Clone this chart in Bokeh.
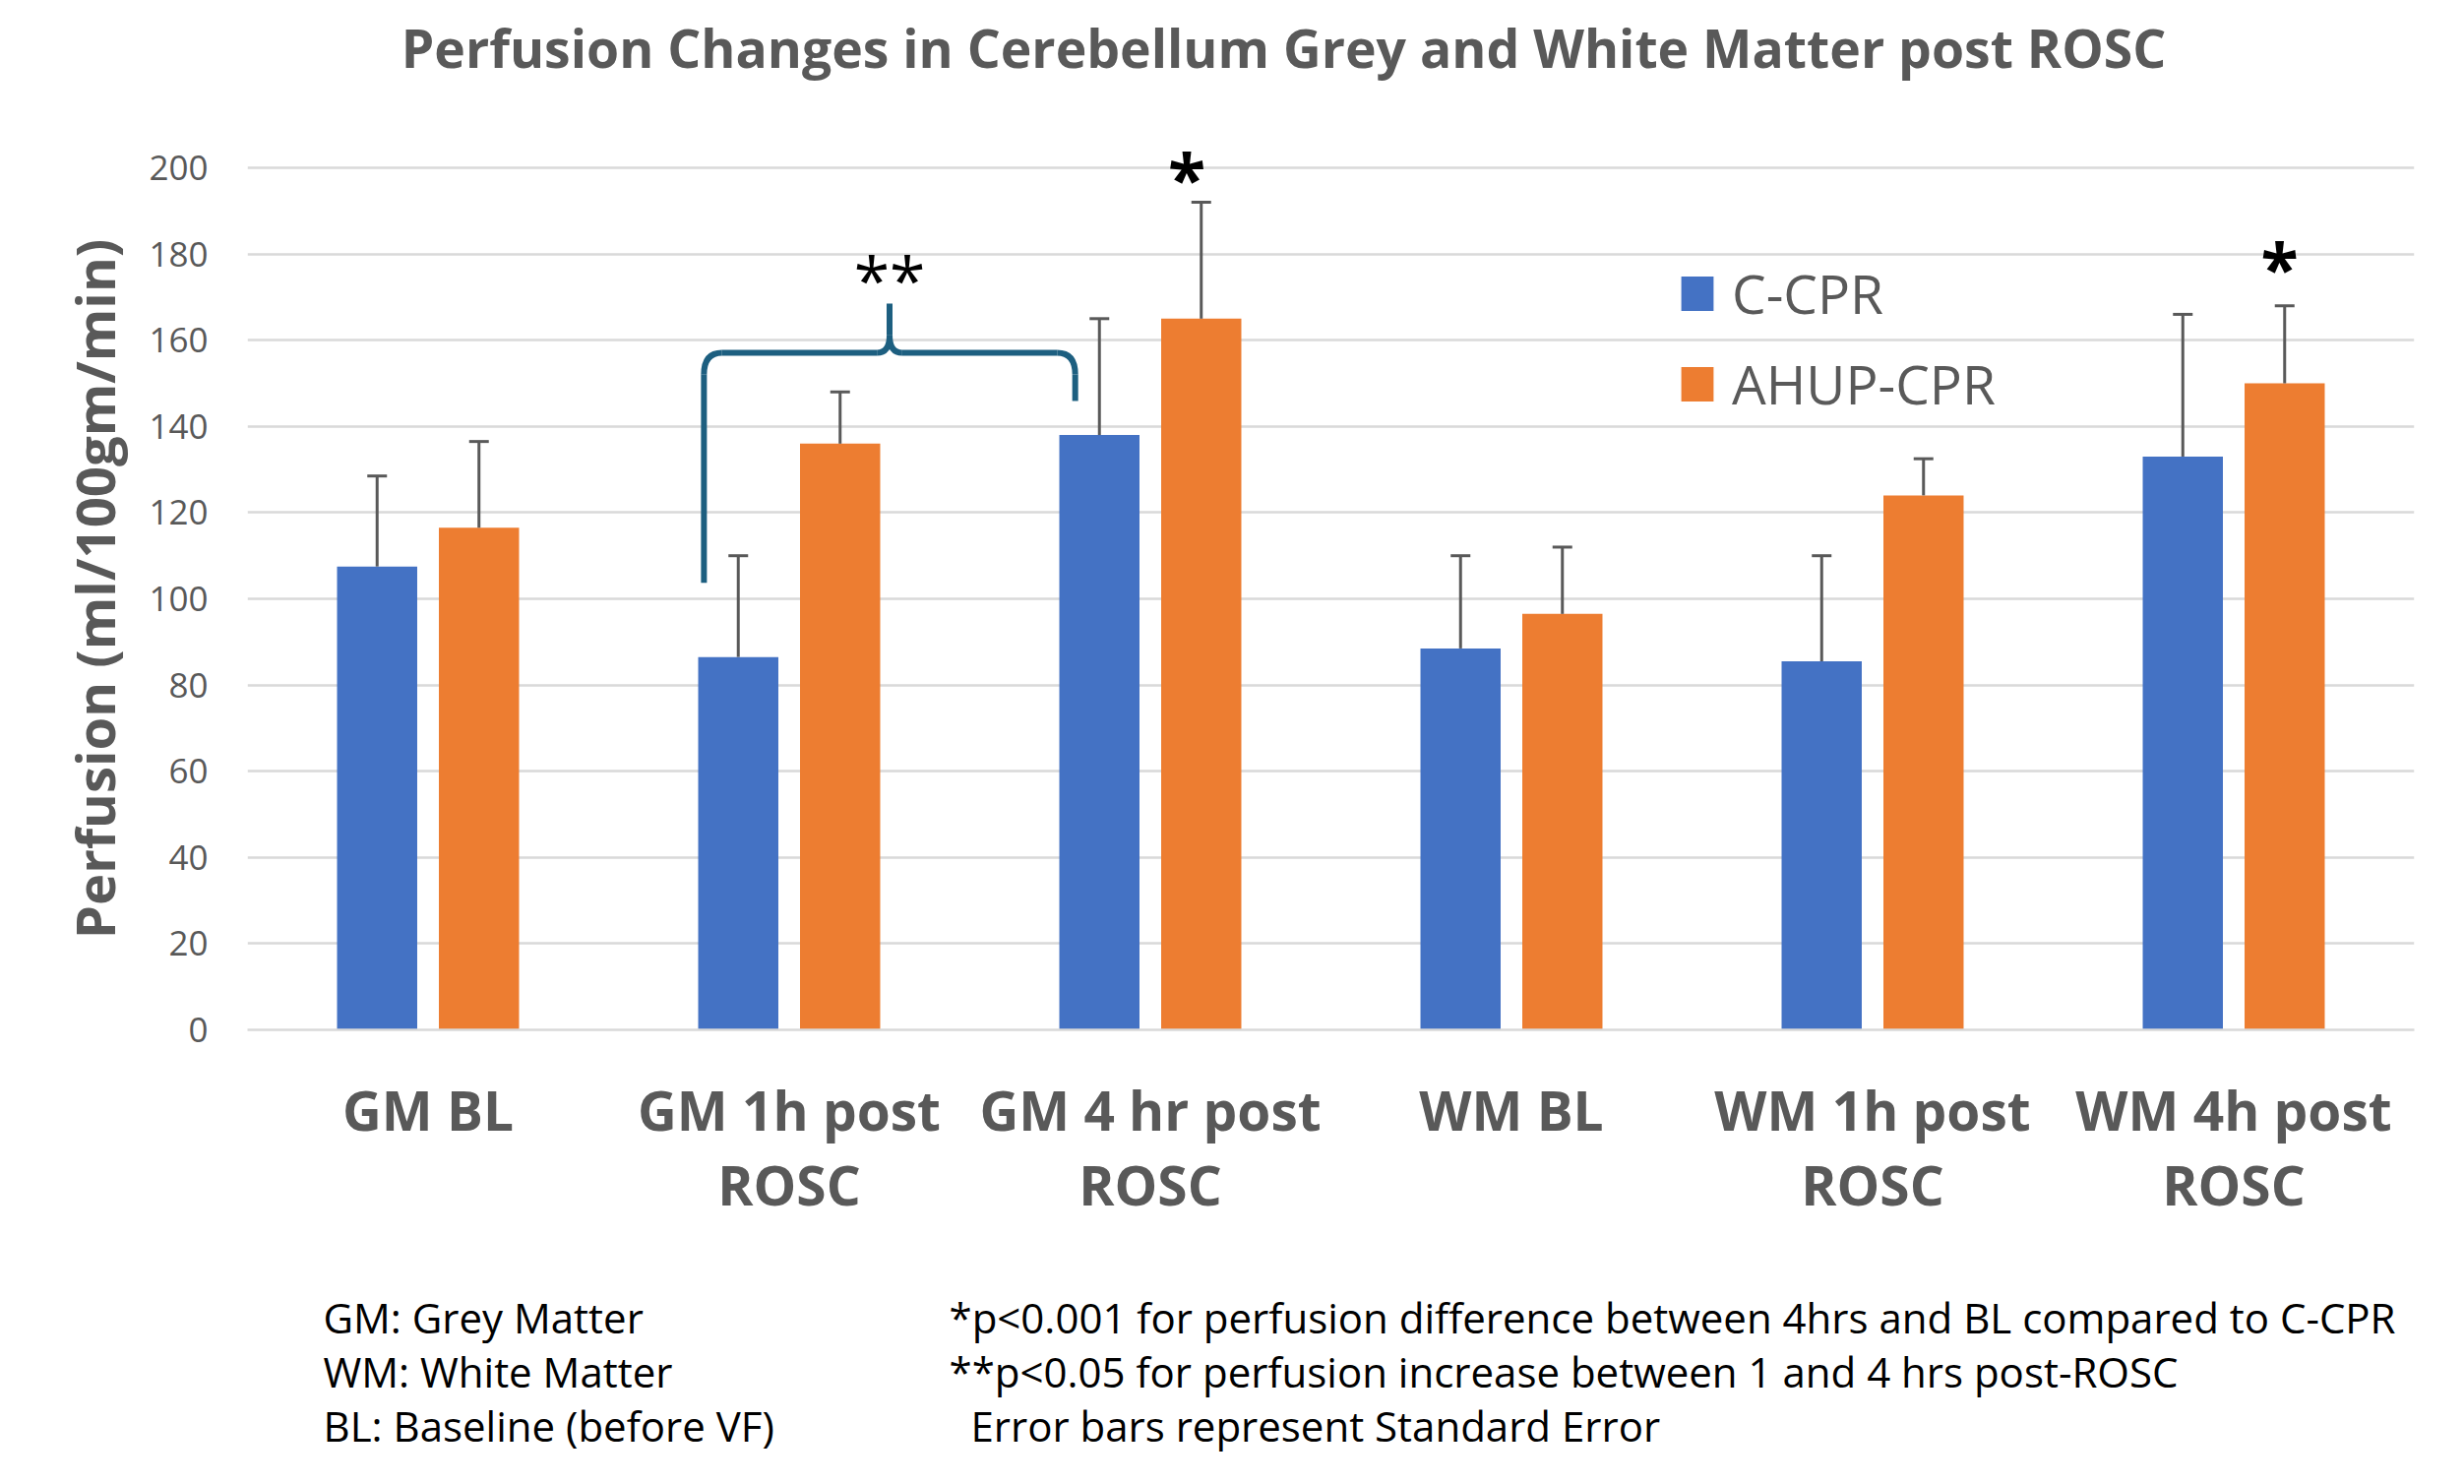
from bokeh.plotting import figure
from bokeh.layouts import column
from bokeh.models import (Range1d, ColumnDataSource, Whisker, TeeHead, Legend, LegendItem,
                          Label, FixedTicker, LinearAxis)
from bokeh.transform import dodge
from bokeh.embed import file_html
from bokeh.resources import INLINE

# ---------------- data ----------------
categories = ["GM BL", "GM 1h post ROSC", "GM 4 hr post ROSC",
              "WM BL", "WM 1h post ROSC", "WM 4h post ROSC"]
label_line1 = ["GM BL", "GM 1h post", "GM 4 hr post", "WM BL", "WM 1h post", "WM 4h post"]
label_line2 = ["", "ROSC", "ROSC", "", "ROSC", "ROSC"]
c_cpr = [107.5, 86.5, 138, 88.5, 85.5, 133]
c_cpr_se = [21, 23.5, 27, 21.5, 24.5, 33]
ahup_cpr = [116.5, 136, 165, 96.5, 124, 150]
ahup_cpr_se = [20, 12, 27, 15.5, 8.5, 18]
y_ticks = [0, 20, 40, 60, 80, 100, 120, 140, 160, 180, 200]
series_names = ["C-CPR", "AHUP-CPR"]

title_text = "Perfusion Changes in Cerebellum Grey and White Matter post ROSC"
y_label = "Perfusion (ml/100gm/min)"
notes_left = ["GM: Grey Matter", "WM: White Matter", "BL: Baseline (before VF)"]
notes_right = ["*p<0.001 for perfusion difference between 4hrs and BL compared to C-CPR",
               "**p<0.05 for perfusion increase between 1 and 4 hrs post-ROSC",
               "Error bars represent Standard Error"]

# ---------------- styles ----------------
BLUE = "#4472C4"
ORANGE = "#ED7D31"
GREY_TXT = "#595959"
GRID = "#D9D9D9"
BRACE = "#1D5F80"
FONT = "Open Sans"
OFF = 0.141
BAR_W = 0.222
W = 2496
BL, BR = 251, 43          # left / right borders around the plot frame
FX0, FX1 = BL, W - BR     # frame extent in page pixels

# category positions on the numeric x scale (category i centred at i + 0.5)
xpos = [i + 0.5 for i in range(len(categories))]

src = ColumnDataSource(dict(
    x=xpos,
    c=c_cpr,
    c_up=[v + e for v, e in zip(c_cpr, c_cpr_se)],
    a=ahup_cpr,
    a_up=[v + e for v, e in zip(ahup_cpr, ahup_cpr_se)],
))


def blank(h):
    f = figure(width=W, height=h, x_range=Range1d(FX0, FX1), y_range=Range1d(0, h),
               min_border_left=BL, min_border_right=BR, min_border_top=0, min_border_bottom=0,
               toolbar_location=None, output_backend="svg",
               x_axis_location=None, y_axis_location=None)
    f.outline_line_color = None
    f.grid.visible = False
    f.background_fill_color = "white"
    f.border_fill_color = "white"
    return f


# ---------------- header (title) ----------------
head = blank(108)
head.add_layout(Label(x=1304, y=60, text=title_text, text_align="center",
                      text_baseline="middle", text_font=FONT, text_font_size="53.5px",
                      text_font_style="bold", text_color=GREY_TXT))

# ---------------- main chart ----------------
p = figure(width=W, height=1172,
           x_range=Range1d(0, len(categories)),
           y_range=Range1d(0, 204.57),
           output_backend="svg", toolbar_location=None,
           min_border_left=BL, min_border_right=BR,
           min_border_top=42, min_border_bottom=234)
p.outline_line_color = None
p.background_fill_color = "white"
p.border_fill_color = "white"

r_c = p.vbar(x=dodge("x", -OFF), top="c", width=BAR_W, source=src,
             fill_color=BLUE, line_color=None)
r_a = p.vbar(x=dodge("x", OFF), top="a", width=BAR_W, source=src,
             fill_color=ORANGE, line_color=None)

for off, lo, up in [(-OFF, "c", "c_up"), (OFF, "a", "a_up")]:
    p.add_layout(Whisker(base=dodge("x", off), lower=lo, upper=up, source=src,
                         line_color=GREY_TXT, line_width=3,
                         upper_head=TeeHead(size=20, line_color=GREY_TXT, line_width=3),
                         lower_head=None, level="glyph"))

p.xgrid.grid_line_color = None
p.ygrid.grid_line_color = GRID
p.ygrid.grid_line_width = 2.5

yax = p.yaxis[0]
yax.ticker = FixedTicker(ticks=y_ticks)
yax.axis_line_color = None
yax.major_tick_line_color = None
yax.minor_tick_line_color = None
yax.major_tick_out = 0
yax.major_tick_in = 0
yax.major_label_text_font = FONT
yax.major_label_text_font_size = "35px"
yax.major_label_text_color = GREY_TXT
yax.major_label_standoff = 40
yax.axis_label = y_label
yax.axis_label_text_font = FONT
yax.axis_label_text_font_size = "54.5px"
yax.axis_label_text_font_style = "bold"
yax.axis_label_text_color = GREY_TXT
yax.axis_label_standoff = 15

xax = p.xaxis[0]
xax.ticker = FixedTicker(ticks=xpos)
xax.axis_line_color = GRID
xax.axis_line_width = 2.5
xax.major_tick_line_color = None
xax.minor_tick_line_color = None
xax.major_tick_out = 0
xax.major_tick_in = 0
xax.major_label_text_font = FONT
xax.major_label_text_font_size = "55px"
xax.major_label_text_font_style = "bold"
xax.major_label_text_color = GREY_TXT
xax.major_label_standoff = 43
xax.major_label_overrides = dict(zip(xpos, label_line1))

xax2 = LinearAxis(ticker=FixedTicker(ticks=xpos),
                  major_label_overrides=dict(zip(xpos, label_line2)),
                  axis_line_color=None, major_tick_line_color=None,
                  minor_tick_line_color=None, major_tick_out=0, major_tick_in=0,
                  major_label_text_font=FONT, major_label_text_font_size="55px",
                  major_label_text_font_style="bold", major_label_text_color=GREY_TXT,
                  major_label_standoff=-2)
p.add_layout(xax2, "below")

# brace between GM 1h and GM 4 hr groups (annotation shape)
xl, xr = 1.264, 2.292
xm = (xl + xr) / 2
yh, yl_b, yr_b, y_tip = 157.1, 103.7, 145.9, 168.5
cdx, cdy = 0.05, 5.0
mdx, mdy = 0.035, 4.0
bw = 6
p.segment(x0=[xl, xl + cdx, xm + mdx, xr, xm], y0=[yl_b, yh, yh, yh - cdy, yh + mdy],
          x1=[xl, xm - mdx, xr - cdx, xr, xm], y1=[yh - cdy, yh, yh, yr_b, y_tip],
          line_color=BRACE, line_width=bw, line_cap="butt")
p.quadratic(x0=[xl, xm - mdx, xm + mdx, xr - cdx], y0=[yh - cdy, yh, yh, yh],
            x1=[xl + cdx, xm, xm, xr], y1=[yh, yh + mdy, yh + mdy, yh - cdy],
            cx=[xl, xm, xm, xr], cy=[yh, yh, yh, yh],
            line_color=BRACE, line_width=bw)

# significance marks
p.add_layout(Label(x=xm, y=174.4, text="**", text_align="center", text_baseline="middle",
                   text_font=FONT, text_font_size="66px", text_color="black"))
p.add_layout(Label(x=xpos[2] + OFF - 0.04, y=197.8, text="*", text_align="center",
                   text_baseline="middle", text_font=FONT, text_font_size="70px",
                   text_font_style="bold", text_color="black"))
p.add_layout(Label(x=xpos[5] + OFF - 0.014, y=177.1, text="*", text_align="center",
                   text_baseline="middle", text_font=FONT, text_font_size="70px",
                   text_font_style="bold", text_color="black"))

legend = Legend(items=[LegendItem(label=series_names[0], renderers=[r_c]),
                       LegendItem(label=series_names[1], renderers=[r_a])],
                location=(1453, 619), glyph_width=41, glyph_height=44,
                label_text_font=FONT, label_text_font_size="55px",
                label_text_color=GREY_TXT, label_standoff=15, spacing=17,
                padding=0, margin=0, border_line_color=None,
                background_fill_alpha=0)
p.add_layout(legend)

# ---------------- footnotes ----------------
notes = blank(220)
base_y = [162, 107, 52]
for t, y in zip(notes_left, base_y):
    notes.add_layout(Label(x=328, y=y, text=t, text_align="left", text_baseline="alphabetic",
                           text_font=FONT, text_font_size="42px", text_color="black"))
for t, y, x in zip(notes_right, base_y, [964, 964, 986]):
    notes.add_layout(Label(x=x, y=y, text=t, text_align="left", text_baseline="alphabetic",
                           text_font=FONT, text_font_size="42px", text_color="black"))

layout = column(head, p, notes, spacing=0)
open("out.html", "w").write(file_html(layout, INLINE))
